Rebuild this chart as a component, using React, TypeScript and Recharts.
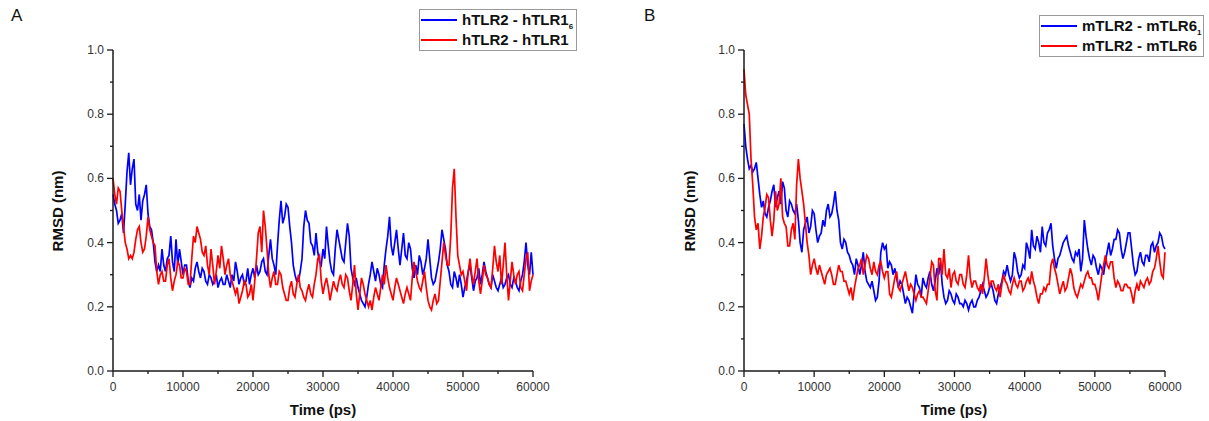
import { LineChart, Line, XAxis, YAxis, Legend } from "recharts";

// RMSD traces sampled every 250 ps, 0 - 60000 ps (one row = 5000 ps)
const STEP_PS = 250;

const hTLR1_6 = [
  0.55, 0.52, 0.5, 0.46, 0.47, 0.49, 0.43, 0.52, 0.62, 0.68, 0.58, 0.63, 0.66, 0.52, 0.5, 0.55, 0.47, 0.53, 0.55, 0.58,
  0.49, 0.45, 0.44, 0.4, 0.34, 0.31, 0.33, 0.31, 0.38, 0.33, 0.31, 0.35, 0.36, 0.42, 0.34, 0.31, 0.41, 0.33, 0.38, 0.34,
  0.3, 0.33, 0.33, 0.28, 0.26, 0.29, 0.28, 0.32, 0.34, 0.31, 0.29, 0.32, 0.31, 0.28, 0.27, 0.3, 0.29, 0.27, 0.28, 0.3,
  0.26, 0.28, 0.29, 0.27, 0.27, 0.3, 0.28, 0.26, 0.3, 0.28, 0.34, 0.31, 0.27, 0.29, 0.3, 0.27, 0.28, 0.32, 0.27, 0.3,
  0.32, 0.29, 0.33, 0.3, 0.31, 0.34, 0.35, 0.31, 0.3, 0.36, 0.41, 0.35, 0.33, 0.3, 0.39, 0.47, 0.53, 0.46, 0.48, 0.52,
  0.51, 0.45, 0.4, 0.33, 0.3, 0.28, 0.28, 0.31, 0.35, 0.45, 0.5, 0.47, 0.46, 0.4, 0.39, 0.36, 0.43, 0.37, 0.34, 0.33,
  0.38, 0.35, 0.45, 0.39, 0.34, 0.31, 0.3, 0.38, 0.44, 0.41, 0.38, 0.35, 0.34, 0.4, 0.46, 0.42, 0.32, 0.29, 0.27, 0.29,
  0.26, 0.24, 0.22, 0.21, 0.2, 0.23, 0.27, 0.3, 0.34, 0.31, 0.28, 0.32, 0.3, 0.27, 0.26, 0.33, 0.38, 0.42, 0.48, 0.39,
  0.36, 0.4, 0.44, 0.38, 0.33, 0.38, 0.43, 0.36, 0.35, 0.4, 0.38, 0.32, 0.29, 0.33, 0.3, 0.36, 0.34, 0.3, 0.32, 0.35,
  0.41, 0.35, 0.29, 0.27, 0.28, 0.31, 0.34, 0.38, 0.44, 0.41, 0.38, 0.33, 0.31, 0.27, 0.26, 0.31, 0.29, 0.26, 0.3, 0.27,
  0.23, 0.26, 0.28, 0.31, 0.33, 0.29, 0.25, 0.28, 0.29, 0.32, 0.27, 0.3, 0.34, 0.31, 0.29, 0.27, 0.26, 0.3, 0.28, 0.26,
  0.25, 0.27, 0.29, 0.26, 0.27, 0.29, 0.3, 0.27, 0.26, 0.29, 0.28, 0.26, 0.25, 0.28, 0.3, 0.34, 0.4, 0.33, 0.3, 0.37,
  0.3,
];

const hTLR1 = [
  0.6, 0.55, 0.52, 0.57, 0.56, 0.5, 0.45, 0.4, 0.38, 0.35, 0.36, 0.35, 0.37, 0.41, 0.44, 0.45, 0.4, 0.37, 0.38, 0.42,
  0.48, 0.44, 0.42, 0.4, 0.39, 0.31, 0.27, 0.3, 0.31, 0.28, 0.28, 0.33, 0.35, 0.29, 0.25, 0.28, 0.3, 0.34, 0.33, 0.29,
  0.29, 0.32, 0.31, 0.27, 0.27, 0.35, 0.42, 0.4, 0.45, 0.43, 0.41, 0.37, 0.36, 0.39, 0.33, 0.3, 0.38, 0.33, 0.27, 0.31,
  0.36, 0.32, 0.39, 0.35, 0.3, 0.33, 0.35, 0.3, 0.28, 0.26, 0.24, 0.26, 0.21, 0.23, 0.25, 0.28, 0.27, 0.23, 0.24, 0.27,
  0.22, 0.28, 0.35, 0.43, 0.45, 0.37, 0.5, 0.45, 0.38, 0.3, 0.26, 0.29, 0.31, 0.27, 0.27, 0.31, 0.3, 0.26, 0.24, 0.22,
  0.22, 0.26, 0.28, 0.24, 0.23, 0.27, 0.3, 0.26, 0.25, 0.23, 0.22, 0.25, 0.27, 0.24, 0.23, 0.27, 0.3, 0.35, 0.36, 0.28,
  0.24, 0.27, 0.29, 0.26, 0.22, 0.25, 0.28, 0.26, 0.25, 0.28, 0.3, 0.27, 0.26, 0.3, 0.29, 0.25, 0.22, 0.27, 0.33, 0.24,
  0.19, 0.24, 0.29, 0.27, 0.24, 0.22, 0.2, 0.22, 0.19, 0.23, 0.26, 0.24, 0.22, 0.26, 0.3, 0.27, 0.33, 0.29, 0.26, 0.24,
  0.22, 0.26, 0.29, 0.27, 0.25, 0.23, 0.21, 0.24, 0.26, 0.24, 0.22, 0.29, 0.34, 0.31, 0.28, 0.26, 0.25, 0.28, 0.31, 0.26,
  0.22, 0.2, 0.19, 0.22, 0.24, 0.21, 0.22, 0.28, 0.34, 0.4, 0.36, 0.33, 0.33, 0.42, 0.57, 0.63, 0.48, 0.36, 0.33, 0.3,
  0.31, 0.28, 0.25, 0.31, 0.35, 0.3, 0.27, 0.31, 0.35, 0.28, 0.24, 0.28, 0.33, 0.3, 0.29, 0.27, 0.26, 0.32, 0.39, 0.34,
  0.31, 0.36, 0.27, 0.33, 0.4, 0.3, 0.22, 0.28, 0.34, 0.3, 0.27, 0.3, 0.31, 0.26, 0.25, 0.3, 0.35, 0.37, 0.25, 0.28,
  0.3,
];

const mTLR6_1 = [
  0.77, 0.7, 0.66, 0.63, 0.64, 0.62, 0.63, 0.65, 0.6, 0.55, 0.51, 0.53, 0.49, 0.48, 0.51, 0.53, 0.56, 0.58, 0.51, 0.54,
  0.56, 0.52, 0.59, 0.57, 0.5, 0.48, 0.53, 0.52, 0.5, 0.49, 0.52, 0.47, 0.4, 0.37, 0.44, 0.46, 0.48, 0.43, 0.45, 0.5,
  0.49, 0.44, 0.4, 0.42, 0.43, 0.47, 0.45, 0.5, 0.52, 0.48, 0.49, 0.52, 0.56, 0.5, 0.47, 0.4, 0.38, 0.41, 0.4, 0.37,
  0.36, 0.34, 0.33, 0.3, 0.35, 0.33, 0.3, 0.33, 0.37, 0.31, 0.28, 0.27, 0.26, 0.28, 0.25, 0.22, 0.23, 0.28, 0.37, 0.4,
  0.38, 0.39, 0.32, 0.34, 0.33, 0.3, 0.32, 0.29, 0.26, 0.28, 0.27, 0.24, 0.21, 0.23, 0.22, 0.2, 0.18, 0.24, 0.3, 0.27,
  0.26, 0.23, 0.29, 0.27, 0.26, 0.29, 0.31, 0.27, 0.25, 0.28, 0.32, 0.3, 0.34, 0.27, 0.23, 0.21, 0.22, 0.25, 0.24, 0.22,
  0.21, 0.24, 0.23, 0.21, 0.21, 0.2, 0.22, 0.21, 0.19, 0.21, 0.22, 0.2, 0.2, 0.22, 0.23, 0.25, 0.27, 0.25, 0.23, 0.24,
  0.26, 0.27, 0.25, 0.22, 0.21, 0.24, 0.26, 0.28, 0.31, 0.3, 0.33, 0.3, 0.28, 0.3, 0.37, 0.35, 0.31, 0.29, 0.3, 0.33,
  0.32, 0.4, 0.38, 0.35, 0.44, 0.39, 0.38, 0.42, 0.4, 0.37, 0.45, 0.4, 0.39, 0.43, 0.44, 0.46, 0.39, 0.35, 0.32, 0.35,
  0.36, 0.38, 0.4, 0.41, 0.42, 0.39, 0.37, 0.35, 0.34, 0.37, 0.36, 0.38, 0.31, 0.35, 0.47, 0.42, 0.38, 0.35, 0.33, 0.36,
  0.35, 0.32, 0.3, 0.33, 0.32, 0.3, 0.34, 0.37, 0.4, 0.36, 0.38, 0.41, 0.41, 0.44, 0.43, 0.38, 0.35, 0.37, 0.4, 0.43,
  0.43, 0.38, 0.33, 0.3, 0.31, 0.35, 0.37, 0.34, 0.33, 0.36, 0.36, 0.34, 0.39, 0.4, 0.37, 0.39, 0.4, 0.43, 0.42, 0.39,
  0.38,
];

const mTLR6 = [
  0.94, 0.86, 0.83, 0.8, 0.66, 0.58, 0.48, 0.44, 0.46, 0.38, 0.42, 0.48, 0.51, 0.55, 0.54, 0.47, 0.42, 0.47, 0.56, 0.5,
  0.52, 0.6, 0.48, 0.46, 0.45, 0.39, 0.39, 0.44, 0.46, 0.41, 0.58, 0.66, 0.6, 0.56, 0.52, 0.46, 0.4, 0.36, 0.3, 0.33,
  0.35, 0.32, 0.3, 0.33, 0.31, 0.29, 0.27, 0.3, 0.31, 0.32, 0.3, 0.27, 0.27, 0.3, 0.33, 0.31, 0.31, 0.28, 0.28, 0.26,
  0.24, 0.26, 0.22, 0.26, 0.29, 0.32, 0.33, 0.35, 0.3, 0.33, 0.36, 0.35, 0.32, 0.3, 0.34, 0.31, 0.3, 0.33, 0.34, 0.31,
  0.29, 0.31, 0.31, 0.24, 0.23, 0.26, 0.29, 0.31, 0.26, 0.25, 0.27, 0.29, 0.31, 0.28, 0.25, 0.27, 0.26, 0.24, 0.22, 0.24,
  0.25, 0.23, 0.23, 0.22, 0.21, 0.25, 0.29, 0.34, 0.33, 0.25, 0.22, 0.35, 0.35, 0.3, 0.38, 0.3, 0.29, 0.32, 0.26, 0.3,
  0.31, 0.28, 0.27, 0.3, 0.3, 0.27, 0.26, 0.3, 0.36, 0.29, 0.26, 0.28, 0.28, 0.26, 0.25, 0.27, 0.24, 0.29, 0.35, 0.3,
  0.26, 0.28, 0.28, 0.26, 0.25, 0.27, 0.23, 0.27, 0.3, 0.28, 0.27, 0.25, 0.24, 0.27, 0.29, 0.27, 0.26, 0.28, 0.28, 0.25,
  0.26, 0.28, 0.29, 0.27, 0.31, 0.28, 0.26, 0.23, 0.21, 0.24, 0.24, 0.26, 0.25, 0.27, 0.27, 0.33, 0.35, 0.32, 0.3, 0.27,
  0.24, 0.26, 0.28, 0.25, 0.26, 0.29, 0.32, 0.3, 0.26, 0.24, 0.23, 0.25, 0.27, 0.26, 0.28, 0.3, 0.31, 0.29, 0.29, 0.27,
  0.27, 0.25, 0.22, 0.26, 0.3, 0.33, 0.36, 0.33, 0.32, 0.34, 0.34, 0.29, 0.26, 0.28, 0.27, 0.25, 0.25, 0.27, 0.27, 0.26,
  0.26, 0.24, 0.21, 0.25, 0.27, 0.25, 0.28, 0.27, 0.26, 0.28, 0.29, 0.27, 0.28, 0.31, 0.32, 0.35, 0.39, 0.34, 0.3, 0.29,
  0.37,
];

const xTicks = [0, 5000, 10000, 15000, 20000, 25000, 30000, 35000, 40000, 45000, 50000, 55000, 60000];
const yTicks = [0, 0.1, 0.2, 0.3, 0.4, 0.5, 0.6, 0.7, 0.8, 0.9, 1.0];

const namesA = ["hTLR2 - hTLR1", "hTLR2 - hTLR1"];
const subsA = ["6", ""];
const namesB = ["mTLR2 - mTLR6", "mTLR2 - mTLR6"];
const subsB = ["1", ""];

const BLUE = "#0000ff";
const RED = "#ff0000";
const AXIS = "#1a1a1a";
const FONT = "Arial, 'Liberation Sans', sans-serif";

function buildRows(a: number[], b: number[]) {
  return a.map((v, i) => ({ time: i * STEP_PS, s1: v, s2: b[i] }));
}

const XTick = ({ x, y, payload }: any) => {
  const major = payload.value % 10000 === 0;
  return (
    <g>
      <line x1={x} x2={x} y1={y} y2={y + (major ? 6 : 3)} stroke={AXIS} strokeWidth={1.3} />
      {major && (
        <text x={x} y={y + 20} textAnchor="middle" fontSize={12} fill="#333" fontFamily={FONT}>
          {payload.value}
        </text>
      )}
    </g>
  );
};

const YTick = ({ x, y, payload }: any) => {
  const major = Math.round(payload.value * 10) % 2 === 0;
  return (
    <g>
      <line x1={x} x2={x - (major ? 6 : 3)} y1={y} y2={y} stroke={AXIS} strokeWidth={1.3} />
      {major && (
        <text x={x - 9} y={y + 4} textAnchor="end" fontSize={12} fill="#333" fontFamily={FONT}>
          {payload.value.toFixed(1)}
        </text>
      )}
    </g>
  );
};

const BoxLegend = ({ payload, subs }: any) => (
  <div style={{ border: "1px solid #999", background: "#fff", fontFamily: FONT, padding: "0 0 0 1px" }}>
    {(payload || []).map((p: any, i: number) => (
      <div key={i} style={{ display: "flex", alignItems: "center", height: 20, whiteSpace: "nowrap" }}>
        <span style={{ display: "inline-block", width: 36, borderTop: `2px solid ${p.color}`, marginRight: 5 }} />
        <span style={{ fontSize: 15, fontWeight: "bold", color: "#111", lineHeight: "20px" }}>
          {p.value}
          {subs[i] && <sub style={{ fontSize: 8, lineHeight: 0, verticalAlign: -4 }}>{subs[i]}</sub>}
        </span>
      </div>
    ))}
  </div>
);

function Panel({ rows, names, subs, width, marginLeft, marginRight, legendPos }: any) {
  return (
    <LineChart width={width} height={421} data={rows} margin={{ top: 50, right: marginRight, bottom: 20, left: marginLeft }}>
      <XAxis
        dataKey="time"
        type="number"
        domain={[0, 60000]}
        ticks={xTicks}
        interval={0}
        height={30}
        tickSize={0}
        tickMargin={0}
        tickLine={false}
        axisLine={{ stroke: AXIS, strokeWidth: 1.5 }}
        tick={<XTick />}
      />
      <YAxis
        type="number"
        domain={[0, 1]}
        ticks={yTicks}
        interval={0}
        width={50}
        tickSize={0}
        tickMargin={0}
        tickLine={false}
        axisLine={{ stroke: AXIS, strokeWidth: 1.5 }}
        tick={<YTick />}
      />
      <Legend
        layout="horizontal"
        verticalAlign="middle"
        align="center"
        wrapperStyle={{ left: legendPos.left, top: legendPos.top, width: legendPos.width, height: "auto" }}
        content={(props: any) => <BoxLegend payload={props.payload} subs={subs} />}
      />
      <Line type="linear" dataKey="s1" name={names[0]} stroke={BLUE} strokeWidth={1.7} dot={false} isAnimationActive={false} />
      <Line type="linear" dataKey="s2" name={names[1]} stroke={RED} strokeWidth={1.7} dot={false} isAnimationActive={false} />
    </LineChart>
  );
}

const abs = (left: number, top: number, extra: any = {}) => ({ position: "absolute" as const, left, top, fontFamily: FONT, ...extra });

export default function App() {
  const rowsA = buildRows(hTLR1_6, hTLR1);
  const rowsB = buildRows(mTLR6_1, mTLR6);
  const title = { fontSize: 15, fontWeight: "bold", color: "#111", whiteSpace: "nowrap" };

  return (
    <div style={{ position: "absolute", left: 0, top: 0, width: 1209, height: 421, background: "#fff", overflow: "hidden" }}>
      <div style={abs(0, 0)}>
        <Panel rows={rowsA} names={namesA} subs={subsA} width={600} marginLeft={63} marginRight={67} legendPos={{ left: 419, top: 9, width: 158 }} />
      </div>
      <div style={abs(610, 0)}>
        <Panel rows={rowsB} names={namesB} subs={subsB} width={599} marginLeft={84} marginRight={44} legendPos={{ left: 429, top: 15, width: 165 }} />
      </div>

      <div style={abs(11, 6, { fontSize: 17, color: "#111" })}>A</div>
      <div style={abs(644, 6, { fontSize: 17, color: "#111" })}>B</div>

      <div style={abs(57, 211, { ...title, transform: "translate(-50%, -50%) rotate(-90deg)" })}>RMSD (nm)</div>
      <div style={abs(689, 211, { ...title, transform: "translate(-50%, -50%) rotate(-90deg)" })}>RMSD (nm)</div>
      <div style={abs(323, 409, { ...title, transform: "translate(-50%, -50%)" })}>Time (ps)</div>
      <div style={abs(954, 409, { ...title, transform: "translate(-50%, -50%)" })}>Time (ps)</div>
    </div>
  );
}
